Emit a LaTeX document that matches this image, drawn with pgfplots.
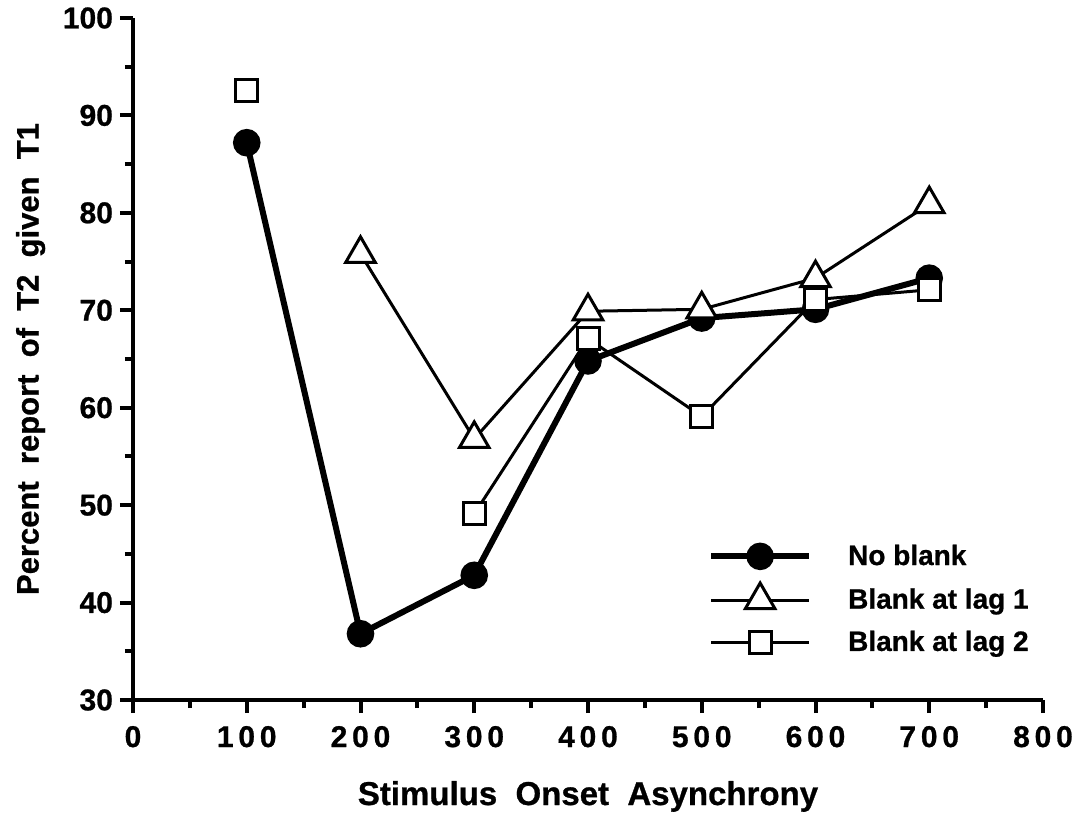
\documentclass[border=0pt]{standalone}
\usepackage{fontspec}
\setmainfont{Liberation Sans}[BoldFeatures={FakeBold=0.8}]
\newfontfamily\spacedfont[LetterSpace=16, BoldFeatures={FakeBold=0.8}]{Liberation Sans}
\usepackage{pgfplots}
\pgfplotsset{compat=1.18}

\pgfplotstableread{
x   y
100 87.2
200 36.8
300 42.8
400 64.8
500 69.2
600 70.1
700 73.3
}\noblank
\pgfplotstableread{
x   y
200 75.8
300 56.8
400 69.9
500 70.1
600 73.3
700 80.9
}\lagone
\pgfplotstableread{
x   y
100 92.6
200 nan
300 49.1
400 67.1
500 59.1
600 71.1
700 72.1
}\lagtwo

\begin{document}
\begin{tikzpicture}
\begin{axis}[
    at={(0,0)}, anchor=south west,
    width=455pt, height=341pt,
    scale only axis,
    xmin=0, xmax=800, ymin=30, ymax=100,
    axis lines*=left,
    axis line style={line width=2pt},
    xtick style={line width=2pt, black},
    ytick style={line width=2pt, black},
    major tick style={line width=2pt, black},
    minor tick style={line width=1.8pt, black},
    xtick={0,100,...,800}, minor xtick={50,150,...,750},
    ytick={30,40,...,100}, minor ytick={35,45,...,95},
    tick align=outside,
    major tick length=6.5pt, minor tick length=4pt,
    /pgf/number format/assume math mode=true,
    xticklabel style={font=\fontsize{15}{17}\spacedfont\bfseries, yshift=-3pt},
    yticklabel style={font=\fontsize{15}{17}\selectfont\bfseries},
    xlabel={Stimulus\ \ Onset\ \ Asynchrony},
    ylabel={Percent\ \ report\ \ of\ \ T2\ \ given\ \ T1},
    xlabel style={font=\fontsize{16.5}{18}\selectfont\bfseries, yshift=-10pt},
    ylabel style={font=\fontsize{15.5}{17}\selectfont\bfseries, yshift=2pt},
    unbounded coords=jump,
    legend style={draw=none, fill=none, at={(axis cs:500,46.8)}, anchor=north west,
        font=\fontsize{14}{16}\selectfont\bfseries, row sep=5.5pt,
        /tikz/every odd column/.append style={column sep=16pt}},
    legend cell align=left,
    legend image code/.code={
        \draw[mark repeat=2,mark phase=2,#1] plot coordinates {(0pt,0pt)(24.5pt,0pt)(49pt,0pt)};
    },
]
\addplot[black, line width=3pt, mark=*, mark size=6.5pt, mark options={solid, line width=0.8pt}]
    table[x=x, y=y] {\noblank};
\addplot[black, line width=1.5pt, mark=triangle*, mark size=8.5pt,
    mark options={fill=white, line width=1.5pt}]
    table[x=x, y=y] {\lagone};
\addplot[black, line width=1.5pt, mark=square*, mark size=5.5pt,
    mark options={fill=white, line width=1.5pt}]
    table[x=x, y=y] {\lagtwo};
\legend{No blank, Blank at lag 1, Blank at lag 2}
\end{axis}
\pgfresetboundingbox
\path (-66.5pt,-59pt) rectangle (473pt,350pt);
\end{tikzpicture}
\end{document}
